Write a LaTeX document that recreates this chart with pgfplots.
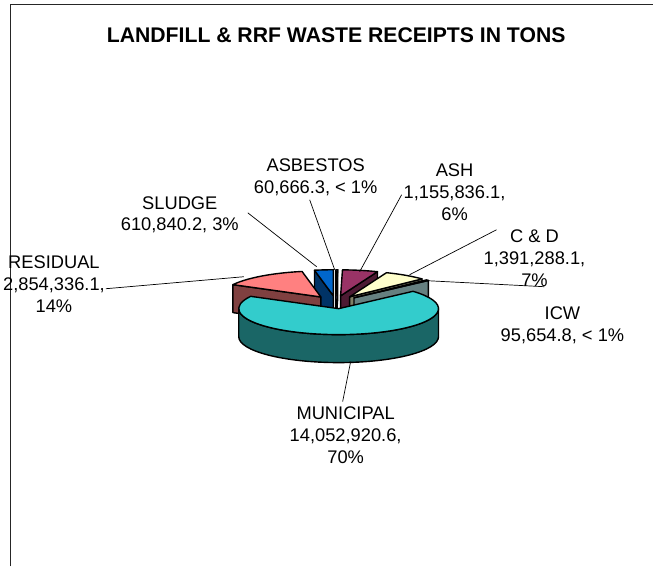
\documentclass[border=0pt]{standalone}
\usepackage{fontspec}
\setmainfont{Liberation Sans}
\usepackage{pgfplots}
\pgfplotsset{compat=1.18}

% ---- data (tons) ----
\def\vAsb{60666.3}
\def\vAsh{1155836.1}
\def\vCD{1391288.1}
\def\vICW{95654.8}
\def\vMun{14052920.6}
\def\vRes{2854336.1}
\def\vSlu{610840.2}
\edef\tot{\fpeval{\vAsb+\vAsh+\vCD+\vICW+\vMun+\vRes+\vSlu}}
% slice boundaries, clockwise from 12 o'clock
\edef\bA{\fpeval{round(90-360*\vAsb/\tot,4)}}
\edef\bB{\fpeval{round(\bA-360*\vAsh/\tot,4)}}
\edef\bC{\fpeval{round(\bB-360*\vCD/\tot,4)}}
\edef\bD{\fpeval{round(\bC-360*\vICW/\tot,4)}}
\edef\bE{\fpeval{round(\bD-360*\vMun/\tot,4)}}
\edef\bF{\fpeval{round(\bE-360*\vRes/\tot,4)}}
% exploded tips
\def\cx{336}\def\cy{264.5}
\newcommand\deftip[3]{%
  \expandafter\edef\csname tx#1\endcsname{\fpeval{round(\cx+25*cosd((#2+#3)/2),3)}}%
  \expandafter\edef\csname ty#1\endcsname{\fpeval{round(\cy+6.5*sind((#2+#3)/2),3)}}}
\deftip{Asb}{\bA}{90}
\deftip{Ash}{\bB}{\bA}
\deftip{CD}{\bC}{\bB}
\deftip{ICW}{\bD}{\bC}
\deftip{Mun}{\bE}{\bD}
\deftip{Res}{\bF}{\bE}
\deftip{Slu}{-270}{\bF}

\definecolor{munT}{HTML}{33CCCC}\definecolor{munS}{HTML}{1A6666}
\definecolor{resT}{HTML}{FF8080}\definecolor{resS}{HTML}{804040}
\definecolor{sluT}{HTML}{0066CC}\definecolor{sluS}{HTML}{003366}
\definecolor{asbT}{HTML}{9999FF}\definecolor{asbS}{HTML}{4D4D80}
\definecolor{ashT}{HTML}{993366}\definecolor{ashS}{HTML}{4D1A33}
\definecolor{cdT}{HTML}{FFFFCC}\definecolor{cdS}{HTML}{808066}
\definecolor{icwT}{HTML}{CCFFFF}\definecolor{icwS}{HTML}{668080}

\tikzset{pe/.style={draw=black,line width=1.4pt,line join=round},
  lab/.style={align=center,font=\fontsize{18.3pt}{22pt}\selectfont,inner sep=0pt},
  lead/.style={draw=black,line width=0.7pt}}
% top face: name, lower, upper, colour
\newcommand\topface[4]{\filldraw[pe,fill=#4] (axis cs:\csname tx#1\endcsname,\csname ty#1\endcsname) -- ++(#3:100pt and 26pt) arc[start angle=#3,end angle=#2,x radius=100pt,y radius=26pt] -- cycle;}
% radial face at angle
\newcommand\radface[3]{\filldraw[pe,fill=#3] (axis cs:\csname tx#1\endcsname,\csname ty#1\endcsname) -- ++(0,-28pt) -- ++(#2:100pt and 26pt) -- ++(0,28pt) -- cycle;}

\begin{document}
\begin{tikzpicture}
\begin{axis}[scale only axis,width=654pt,height=567pt,
  xmin=0,xmax=654,ymin=0,ymax=567,hide axis,clip=false]
\path (axis cs:0,0) rectangle (axis cs:654,567);
% frame
\draw[black!85,line width=1.3pt] (axis cs:10.5,0) -- (axis cs:10.5,562.5) -- (axis cs:654,562.5);
% title
\node[font=\fontsize{21.2pt}{25pt}\selectfont\bfseries] at (axis cs:336.5,532) {LANDFILL \& RRF WASTE RECEIPTS IN TONS};
% slices back to front
\radface{Slu}{\bF}{sluS}
\topface{Slu}{-270}{\bF}{sluT}
\radface{Asb}{\bA}{asbS}
\topface{Asb}{\bA}{90}{asbT}
\radface{Ash}{\bB}{ashS}
\topface{Ash}{\bB}{\bA}{ashT}
\radface{Res}{\bE}{resS}
\topface{Res}{\bF}{\bE}{resT}
\radface{CD}{\bC}{cdS}
\topface{CD}{\bC}{\bB}{cdT}
\radface{ICW}{\bD}{icwS}
\topface{ICW}{\bD}{\bC}{icwT}
\filldraw[pe,fill=munS] (axis cs:\txMun,\tyMun) ++(-180:100pt and 26pt) arc[start angle=-180,end angle=0,x radius=100pt,y radius=26pt] -- ++(0,-28pt) arc[start angle=0,end angle=-180,x radius=100pt,y radius=26pt] -- cycle;
\topface{Mun}{\bE}{\bD}{munT}
% leader lines
\draw[lead] (axis cs:310,367) -- (axis cs:335,297);
\draw[lead] (axis cs:248,354) -- (axis cs:317,300);
\draw[lead] (axis cs:402,372) -- (axis cs:360,295);
\draw[lead] (axis cs:497,337) -- (axis cs:410,292);
\draw[lead] (axis cs:545,280) -- (axis cs:428,286);
\draw[lead] (axis cs:343,165) -- (axis cs:351,205);
\draw[lead] (axis cs:106,278) -- (axis cs:244,290);
% labels
\node[lab] at (axis cs:316,390) {ASBESTOS\\60,666.3, < 1\%};
\node[lab] at (axis cs:180,352) {SLUDGE\\610,840.2, 3\%};
\node[lab] at (axis cs:455,375) {ASH\\1,155,836.1,\\6\%};
\node[lab] at (axis cs:535,309) {C \& D\\1,391,288.1,\\7\%};
\node[lab] at (axis cs:563,241) {ICW\\95,654.8, < 1\%};
\node[lab] at (axis cs:346,131) {MUNICIPAL\\14,052,920.6,\\70\%};
\node[lab] at (axis cs:54,283) {RESIDUAL\\2,854,336.1,\\14\%};
\end{axis}
\end{tikzpicture}
\end{document}
